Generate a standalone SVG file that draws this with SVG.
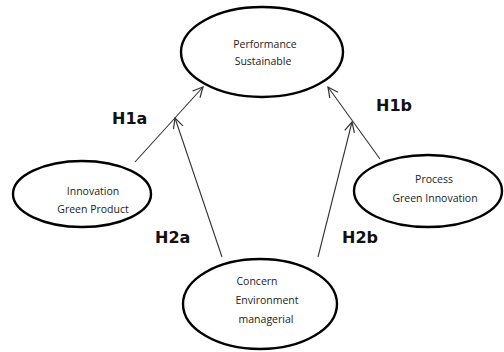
<svg xmlns="http://www.w3.org/2000/svg" width="504" height="352" viewBox="0 0 504 352">
  <style>
    .node ellipse { fill: #ffffff; stroke: #000000; stroke-width: 2.4; }
    .node text { font-family: "Open Sans", "Noto Sans", sans-serif; font-size: 10.5px; fill: #222222; text-anchor: middle; }
    .edge { stroke: #333333; stroke-width: 1.1; fill: none; marker-end: url(#arrow); }
    .label { font-family: "DejaVu Sans", "Liberation Sans", sans-serif; font-weight: bold; font-size: 16px; fill: #111111; }
  </style>
  <defs>
    <marker id="arrow" viewBox="0 0 12 12" refX="11" refY="6" markerWidth="12" markerHeight="12" markerUnits="userSpaceOnUse" orient="auto">
      <path d="M1,1 L11,6 L1,11" fill="none" stroke="#333333" stroke-width="1.2"/>
    </marker>
  </defs>
  <rect width="504" height="352" fill="#ffffff"/>

  <!-- connectors -->
  <g id="connectors">
    <line class="edge" x1="135" y1="162" x2="203" y2="87"/>
    <line class="edge" x1="222" y1="257" x2="175" y2="118"/>
    <line class="edge" x1="380" y1="159" x2="328" y2="87"/>
    <line class="edge" x1="318" y1="257" x2="352" y2="122"/>
  </g>

  <!-- hypothesis labels -->
  <g id="labels">
    <text class="label" x="112" y="124">H1a</text>
    <text class="label" x="376" y="111">H1b</text>
    <text class="label" x="155" y="243">H2a</text>
    <text class="label" x="342" y="243">H2b</text>
  </g>

  <g id="performance" class="node">
    <ellipse cx="262" cy="52" rx="81" ry="45"/>
    <text x="265" y="48">Performance</text>
    <text x="263" y="65">Sustainable</text>
  </g>

  <g id="green-product" class="node">
    <ellipse cx="82" cy="194" rx="69" ry="33"/>
    <text x="93" y="195">Innovation</text>
    <text x="93" y="213">Green Product</text>
  </g>

  <g id="green-innovation" class="node">
    <ellipse cx="428" cy="191" rx="74" ry="36"/>
    <text x="434" y="183">Process</text>
    <text x="435" y="202">Green Innovation</text>
  </g>

  <g id="concern" class="node">
    <ellipse cx="260" cy="304" rx="77" ry="45"/>
    <text x="257" y="285">Concern</text>
    <text x="267" y="304">Environment</text>
    <text x="266" y="323">managerial</text>
  </g>
</svg>
